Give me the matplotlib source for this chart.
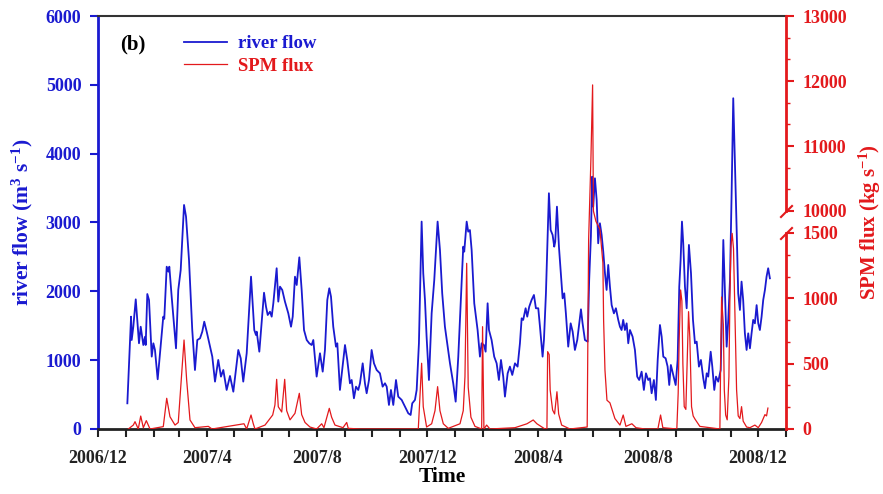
import matplotlib
matplotlib.use('Agg')
import matplotlib.pyplot as plt
import matplotlib.dates as mdates
from matplotlib.ticker import FixedLocator, FuncFormatter
import numpy as np
import pandas as pd

# days counted from 2006-12-01
flow_day = [32.5, 36.6, 37.3, 39.1, 41.8, 45.4, 47.3, 50.2, 52.1, 52.8, 54.6, 56.5, 59.5, 61.3, 63.1,
            66.1, 68.7, 72.3, 73.4, 76.1, 77.9, 79.0, 81.6, 86.4, 88.9, 91.6, 95.3, 97.5, 100.8, 104.4,
            107.4, 110.0, 113.0, 115.5, 117.7, 120.4, 124.1, 126.6, 129.6, 133.2, 136.2, 138.8, 142.5,
            146.2, 149.9, 155.4, 158.1, 160.9, 164.7, 169.5, 173.1, 175.0, 175.8, 178.7, 181.3, 183.9,
            186.1, 188.0, 190.5, 192.4, 194.2, 197.9, 199.7, 201.6, 204.1, 207.1, 210.8, 213.8, 215.7,
            218.2, 220.1, 223.0, 225.6, 228.2, 231.2, 234.0, 236.7, 238.5, 242.2, 245.9, 248.9, 251.4,
            254.0, 256.2, 258.1, 260.6, 263.6, 265.1, 268.0, 273.6, 276.1, 279.1, 281.0, 283.5, 285.8,
            288.3, 290.2, 293.2, 295.7, 297.6, 300.2, 303.1, 305.7, 308.7, 312.3, 315.3, 317.9, 319.8,
            322.3, 324.5, 327.1, 330.1, 332.6, 336.4, 340.0, 343.7, 346.3, 348.1, 351.1, 353.0, 355.5,
            357.0, 358.5, 360.3, 362.2, 364.0, 366.6, 369.6, 372.5, 376.2, 378.8, 381.3, 384.3, 389.9,
            393.5, 396.2, 399.1, 402.1, 404.6, 405.7, 408.4, 410.1, 412.0, 413.9, 416.8, 420.5, 423.1,
            425.0, 427.5, 429.4, 431.6, 433.1, 436.0, 438.9, 441.6, 444.1, 446.4, 448.9, 450.8, 453.8,
            456.3, 458.9, 461.9, 464.8, 467.4, 469.3, 471.0, 473.7, 475.5, 477.7, 480.3, 482.9, 485.1,
            487.7, 489.6, 492.5, 494.0, 496.2, 497.7, 499.5, 501.4, 503.6, 505.4, 506.5, 508.4, 510.6,
            512.5, 514.7, 516.5, 518.3, 520.9, 523.6, 525.8, 528.3, 530.9, 533.1, 535.0, 536.8, 539.4,
            542.4, 544.1, 546.0, 547.5, 548.6, 550.5, 552.4, 554.1, 556.0, 557.9, 559.7, 561.6, 563.4,
            565.2, 567.1, 569.0, 571.5, 573.7, 576.3, 578.2, 580.0, 581.8, 583.7, 585.6, 587.4, 589.3,
            592.2, 594.8, 597.3, 599.5, 602.2, 604.7, 607.0, 609.5, 611.4, 613.3, 615.8, 618.0, 620.0,
            622.5, 624.4, 626.2, 628.8, 631.0, 632.8, 634.6, 637.2, 639.9, 642.1, 643.9, 645.4, 646.9,
            648.3, 650.2, 652.1, 654.6, 656.9, 659.1, 661.3, 663.2, 665.7, 667.9, 670.5, 672.4, 674.3,
            676.0, 678.7, 680.5, 682.7, 684.6, 687.1, 689.8, 690.9, 692.7, 694.6, 696.4, 698.2, 700.1,
            701.9, 703.7, 705.5, 707.4, 709.2, 711.1, 712.9, 714.7, 716.6, 718.5, 720.3, 722.2, 724.0,
            725.8, 727.7, 729.6, 731.4, 733.2, 735.1, 736.9, 738.8, 740.6, 742.4, 744.3]
flow = [373, 1632, 1293, 1486, 1884, 1245, 1486, 1220, 1340, 1220, 1961, 1874, 1051, 1245, 1148,
        722, 1100, 1632, 1600, 2358, 2286, 2358, 1922, 1172, 2020, 2310, 3255, 3085, 2455, 1438,
        857, 1293, 1317, 1414, 1559, 1414, 1196, 1051, 688, 1003, 761, 857, 567,
        770, 542, 1148, 1027, 688, 1100, 2213, 1438, 1365, 1414, 1123, 1559, 1980,
        1777, 1656, 1704, 1632, 1826, 2335, 1850, 2068, 2020, 1850, 1680, 1486, 1632,
        2213, 2092, 2494, 2020, 1438, 1293, 1245, 1220, 1293, 761, 1100, 833, 1148,
        1874, 2044, 1922, 1486, 1196, 1245, 567, 1220, 1003, 664, 712, 446, 615,
        567, 664, 954, 664, 519, 712, 1148, 954, 857, 809, 615, 664, 615,
        349, 567, 349, 712, 470, 422, 325, 228, 204, 373, 422, 567, 1245,
        2116, 3013, 2262, 1874, 1340, 712, 1681, 2165, 3013, 2600, 1971, 1486, 954,
        664, 397, 1051, 1922, 2649, 2576, 3013, 2867, 2890, 2600, 1826, 1438, 1051,
        1245, 1220, 1123, 1826, 1438, 1293, 1051, 954, 712, 1003, 761, 470, 809,
        906, 785, 954, 906, 1245, 1608, 1585, 1754, 1632, 1777, 1874, 1947, 1754,
        1754, 1486, 1051, 1293, 1971, 2649, 3425, 2891, 2819, 2649, 2721, 3230, 2649,
        2310, 1898, 1971, 1680, 1196, 1535, 1414, 1148, 1293, 1535, 1739, 1535, 1293,
        1269, 2165, 2794, 3666, 3230, 3642, 3327, 2698, 2989, 2819, 2577, 2262, 2020,
        2383, 2068, 1801, 1680, 1754, 1585, 1486, 1438, 1585, 1438, 1535, 1245, 1438,
        1341, 1148, 761, 712, 833, 567, 809, 712, 736, 519, 712, 422, 1003,
        1511, 1342, 1051, 1027, 906, 639, 930, 785, 639, 1003, 2068, 2455, 3013,
        2698, 2068, 1754, 2674, 2262, 1585, 1245, 1269, 906, 1003, 736, 591, 809,
        761, 1123, 906, 567, 761, 688, 857, 1486, 2746, 1971, 1196, 1585, 2165,
        3425, 4805, 3908, 2940, 1971, 1729, 2141, 1874, 1390, 1148, 1390, 1172, 1390,
        1585, 1535, 1800, 1535, 1438, 1632, 1874, 2020, 2213, 2335, 2189]

spm_day = [33.6, 39.1, 41.0, 44.6, 47.3, 50.2, 53.5, 57.6, 72.3, 76.1, 79.7, 85.3, 88.9, 95.3, 98.2,
           101.9, 107.4, 122.2, 126.3, 161.7, 164.7, 169.5, 172.0, 173.9, 185.0, 190.5, 193.5, 196.0,
           197.9, 199.7, 203.5, 206.8, 209.0, 212.7, 218.2, 223.0, 225.6, 229.3, 234.8, 242.2, 247.8,
           250.3, 256.2, 258.8, 262.5, 271.4, 275.5, 277.2, 290.2, 334.5, 354.8, 358.5, 360.3, 364.0,
           369.6, 373.3, 376.2, 378.8, 382.5, 388.0, 401.0, 404.6, 406.5, 408.4, 410.1, 413.1, 417.6,
           425.0, 426.0, 427.5, 430.5, 434.2, 461.9, 475.2, 482.1, 486.2, 495.1, 497.3, 498.1, 499.8,
           500.9, 503.6, 505.8, 508.4, 510.3, 513.6, 522.8, 541.9, 543.5, 546.0, 547.9, 548.8, 551.6,
           556.0, 559.3, 560.1, 561.6, 563.8, 567.1, 572.6, 578.2, 581.8, 584.8, 591.4, 595.9, 605.8,
           620.2, 623.2, 625.7, 641.2, 642.7, 643.8, 645.4, 646.8, 647.9, 649.4, 651.2, 652.7, 654.2,
           655.6, 657.5, 659.3, 661.2, 666.7, 688.9, 690.0, 690.8, 692.7, 693.8, 695.3, 697.0, 698.9,
           700.0, 701.1, 702.5, 704.0, 705.5, 707.4, 709.2, 711.1, 712.9, 714.7, 718.5, 722.2, 727.7,
           731.4, 735.1, 738.8, 740.6, 742.1]
spm = [0, 30, 56, 0, 99, 10, 64, 0, 18, 235, 94, 30, 50, 681, 375,
       69, 10, 20, 0, 40, 0, 107, 40, 0, 30, 80, 107, 184,
       380, 170, 130, 380, 140, 70, 120, 273, 110, 50, 15, 0, 40,
       10, 158, 90, 30, 10, 50, 5, 0, 0, 0, 503, 170, 15,
       40, 140, 324, 140, 40, 5, 40, 140, 400, 1268, 320, 90, 20,
       0, 783, 0, 30, 0, 10, 40, 69, 40, 0, 0, 592, 569,
       298, 145, 115, 285, 115, 30, 0, 15, 1450, 10785, 11940, 10000, 6000,
       3000, 1270, 830, 450, 220, 200, 80, 30, 107, 20, 40, 10, 0,
       0, 107, 10, 0, 273, 681, 1064, 980, 500, 171, 150, 528, 898,
       700, 171, 100, 77, 20, 0, 656, 1010, 800, 300, 107, 70, 400,
       1000, 1395, 1497, 1380, 900, 300, 100, 80, 171, 60, 15, 10, 30,
       10, 50, 110, 100, 160]

BLUE = '#1a1ad0'
RED = '#e3191c'

plt.rcParams['font.family'] = ['Liberation Serif', 'DejaVu Serif']
plt.rcParams['font.weight'] = 'bold'
plt.rcParams['mathtext.fontset'] = 'custom'
plt.rcParams['mathtext.rm'] = 'Liberation Serif:bold'
plt.rcParams['mathtext.it'] = 'Liberation Serif:bold'
plt.rcParams['mathtext.bf'] = 'Liberation Serif:bold'

start = pd.Timestamp('2006-12-01')
flow_t = start + pd.to_timedelta(flow_day, unit='D')
spm_t = start + pd.to_timedelta(spm_day, unit='D')

# broken right axis: 0-1500 lower part, 10000-13000 upper part
LO, GAP, HI = 196 / 413, 22 / 413, 195 / 413


def fwd(v):
    v = np.asarray(v, dtype=float)
    return np.where(v <= 1500, v / 1500 * LO,
                    np.where(v >= 10000, LO + GAP + (v - 10000) / 3000 * HI,
                             LO + (v - 1500) / 8500 * GAP))


def inv(p):
    p = np.asarray(p, dtype=float)
    return np.where(p <= LO, p / LO * 1500,
                    np.where(p >= LO + GAP, 10000 + (p - LO - GAP) / HI * 3000,
                             1500 + (p - LO) / GAP * 8500))


fig = plt.figure(figsize=(8.83, 4.94), dpi=100)
ax = fig.add_axes([0.111, 0.1316, 0.779, 0.836])
ax2 = ax.twinx()

l1, = ax.plot(flow_t, flow, color=BLUE, lw=1.3, label='river flow')
l2, = ax2.plot(spm_t, spm, color=RED, lw=0.9, label='SPM flux')

ax.set_xlim(pd.Timestamp('2006-12-01'), pd.Timestamp('2009-01-01'))
ax.set_ylim(0, 6000)
ax.set_yticks(range(0, 6001, 1000))

ax2.set_yscale('function', functions=(fwd, inv))
ax2.set_ylim(0, 13000)
ax2.yaxis.set_major_locator(FixedLocator([0, 500, 1000, 1500, 10000, 11000, 12000, 13000]))
ax2.yaxis.set_minor_locator(FixedLocator([500 / 3 * k for k in (1, 2, 4, 5, 7, 8)] +
                                         [10000 + 1000 / 3 * k for k in (1, 2, 4, 5, 7, 8)]))
ax2.yaxis.set_major_formatter(FuncFormatter(lambda v, p: f'{int(round(v))}'))

ax.xaxis.set_major_locator(mdates.MonthLocator(bymonth=[4, 8, 12]))
ax.xaxis.set_minor_locator(mdates.MonthLocator())
ax.xaxis.set_major_formatter(FuncFormatter(
    lambda v, p: f'{mdates.num2date(v).year}/{mdates.num2date(v).month}'))

# spines
ax.spines['left'].set_color(BLUE)
ax.spines['left'].set_linewidth(2)
ax.spines['right'].set_visible(False)
ax.spines['top'].set_color('#333333')
ax.spines['top'].set_linewidth(1.5)
ax.spines['bottom'].set_color('#222222')
ax.spines['bottom'].set_linewidth(2)
for s in ['left', 'top', 'bottom']:
    ax2.spines[s].set_visible(False)
ax2.spines['right'].set_color(RED)
ax2.spines['right'].set_linewidth(2)
ax2.spines['right'].set_bounds(0, 1500)
ax2.plot([1, 1], [10000, 13000], transform=ax2.get_yaxis_transform(),
         color=RED, lw=2, clip_on=False)
ax2.plot([1, 1], [10000, 1500], transform=ax2.get_yaxis_transform(),
         ls='none', marker=[(-1, -1), (1, 1)], ms=9, mew=1.5, mec=RED, clip_on=False)

ax.tick_params(axis='y', colors=BLUE, labelsize=13, length=6, width=1.5, pad=6, direction='out')
ax.tick_params(axis='x', which='major', labelsize=13, length=6, width=1.5, pad=9, colors='#222222')
ax.tick_params(axis='x', which='minor', length=6, width=1.5, colors='#222222')
ax2.tick_params(axis='y', which='major', colors=RED, labelsize=13, length=6, width=1.5, pad=6)
ax2.tick_params(axis='y', which='minor', colors=RED, length=3, width=1)

ax.set_ylabel('river flow (m$^{3}$ s$^{-1}$)', color=BLUE, fontsize=15.5, fontweight='bold')
ax.yaxis.set_label_coords(-0.092, 0.5)
ax2.set_ylabel('SPM flux (kg s$^{-1}$)', color=RED, fontsize=15, fontweight='bold')
ax2.yaxis.set_label_coords(1.103, 0.5)
ax.set_xlabel('Time', fontsize=15.5, fontweight='bold', labelpad=0)

ax.text(0.032, 0.93, '(b)', transform=ax.transAxes, fontsize=15, fontweight='bold', va='center')
ax.legend(handles=[l1, l2], loc='upper left', bbox_to_anchor=(0.103, 0.99), frameon=False,
          fontsize=13.5, labelcolor='linecolor', handlelength=2.3, handletextpad=0.6,
          labelspacing=0.3, borderpad=0.3)

fig.savefig('out.png', dpi=100)
